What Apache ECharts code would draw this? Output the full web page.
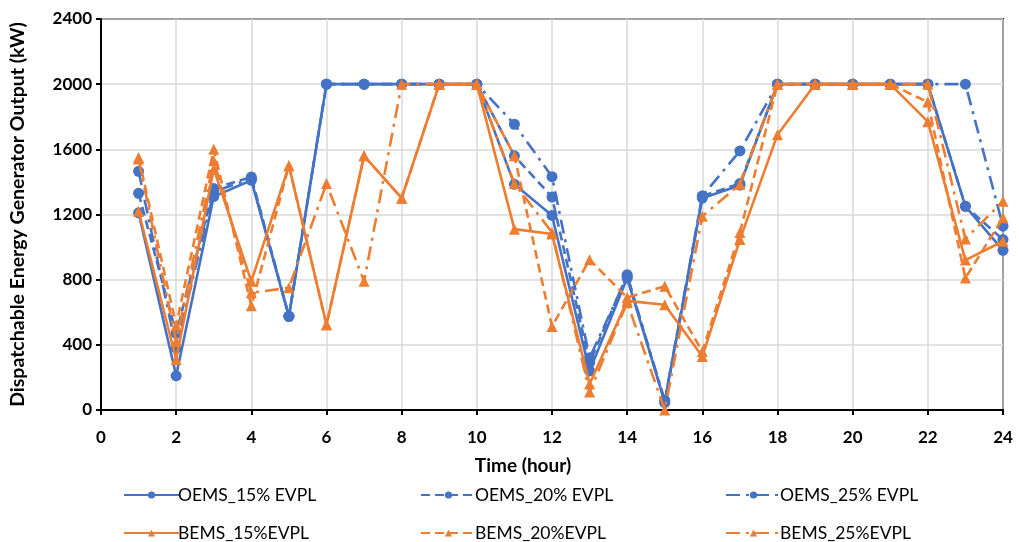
<!DOCTYPE html>
<html>
<head>
<meta charset="utf-8">
<script src="https://cdn.jsdelivr.net/npm/echarts@6/dist/echarts.min.js"></script>
<style>
  html, body { margin: 0; padding: 0; background: #fff; }
  #chart { width: 1019px; height: 542px; }
</style>
</head>
<body>
<div id="chart"></div>
<script>
// Hour of day
const hours = [1, 2, 3, 4, 5, 6, 7, 8, 9, 10, 11, 12, 13, 14, 15, 16, 17, 18, 19, 20, 21, 22, 23, 24];

// Dispatchable generator output (kW) per scenario
const oems15 = [1210, 210, 1310, 1410, 575, 2000, 2000, 2000, 2000, 2000, 1385, 1194, 240, 810, 50, 1300, 1380, 2000, 2000, 2000, 2000, 2000, 1250, 980];
const oems20 = [1330, 470, 1360, 1430, 575, 2000, 2000, 2000, 2000, 2000, 1560, 1307, 290, 830, 45, 1313, 1390, 2000, 2000, 2000, 2000, 2000, 1250, 1046];
const oems25 = [1465, 380, 1340, 1420, 575, 2000, 2000, 2000, 2000, 2000, 1754, 1432, 320, 820, 60, 1313, 1590, 2000, 2000, 2000, 2000, 2000, 2000, 1128];
const bems15 = [1220, 310, 1480, 790, 1500, 523, 1560, 1300, 2000, 2000, 1110, 1080, 160, 670, 646, 328, 1046, 1690, 2000, 2000, 2000, 1770, 920, 1036];
const bems20 = [1550, 520, 1600, 640, 1500, 523, 1560, 1300, 2000, 2000, 1560, 513, 923, 690, 760, 359, 1090, 2000, 2000, 2000, 2000, 1890, 810, 1180];
const bems25 = [1540, 420, 1530, 720, 750, 1390, 790, 2000, 2000, 2000, 1390, 1090, 110, 660, 0, 1190, 1385, 2000, 2000, 2000, 2000, 2000, 1050, 1282];

const seriesNames = ['OEMS_15% EVPL', 'OEMS_20% EVPL', 'OEMS_25% EVPL', 'BEMS_15%EVPL', 'BEMS_20%EVPL', 'BEMS_25%EVPL'];

// Axis tick values
const xTicks = [0, 2, 4, 6, 8, 10, 12, 14, 16, 18, 20, 22, 24];
const yTicks = [0, 400, 800, 1200, 1600, 2000, 2400];

const BLUE = '#4472C4';
const ORANGE = '#ED7D31';
const SOLID = 'solid';
const DASH = [9, 5];
const DASHDOT = [14, 6, 3, 6];

const FONT = 'Lato, Carlito, "Liberation Sans", sans-serif';

const defs = [
  { data: oems15, color: BLUE, type: SOLID, symbol: 'circle' },
  { data: oems20, color: BLUE, type: DASH, symbol: 'circle' },
  { data: oems25, color: BLUE, type: DASHDOT, symbol: 'circle' },
  { data: bems15, color: ORANGE, type: SOLID, symbol: 'triangle' },
  { data: bems20, color: ORANGE, type: DASH, symbol: 'triangle' },
  { data: bems25, color: ORANGE, type: DASHDOT, symbol: 'triangle' }
];

const series = defs.map((d, i) => ({
  name: seriesNames[i],
  type: 'line',
  data: hours.map((h, k) => [h, d.data[k]]),
  symbol: d.symbol,
  symbolSize: 11,
  showSymbol: true,
  itemStyle: { color: d.color },
  lineStyle: { color: d.color, width: 2.6, type: d.type },
  emphasis: { disabled: true },
  animation: false,
  z: 2 + i
}));

// Legend: two rows of three entries
const legendPos = [
  { left: 123, top: 486 }, { left: 420, top: 486 }, { left: 725, top: 486 },
  { left: 123, top: 524 }, { left: 420, top: 524 }, { left: 725, top: 524 }
];
const legends = seriesNames.map((n, i) => ({
  data: [n],
  left: legendPos[i].left,
  top: legendPos[i].top,
  padding: 0,
  itemWidth: 55,
  itemHeight: 9,
  itemGap: 2,
  textStyle: { fontFamily: FONT, fontSize: 17.5, color: '#000', padding: [0, 0, 0, -6] },
  selectedMode: false
}));

const chart = echarts.init(document.getElementById('chart'), null, { renderer: 'canvas' });
chart.setOption({
  backgroundColor: '#fff',
  animation: false,
  grid: {
    left: 99, right: 16, top: 19, bottom: 132,
    show: true, borderColor: '#000', borderWidth: 2, containLabel: false
  },
  legend: legends,
  xAxis: {
    type: 'value',
    min: xTicks[0], max: xTicks[xTicks.length - 1], interval: xTicks[1] - xTicks[0],
    name: 'Time (hour)',
    nameLocation: 'middle',
    nameGap: 46,
    nameTextStyle: { fontFamily: FONT, fontSize: 19, fontWeight: 'bold', color: '#000', padding: [0, 58, 0, 0] },
    axisLine: { show: true, onZero: false, lineStyle: { color: '#000', width: 2 } },
    axisTick: { show: true, inside: false, length: 5, lineStyle: { color: '#000', width: 2 } },
    axisLabel: { fontFamily: FONT, fontSize: 17, fontWeight: 'bold', color: '#000', margin: 19 },
    splitLine: { show: true, lineStyle: { color: '#d9d9d9', width: 1.5 } }
  },
  yAxis: {
    type: 'value',
    min: yTicks[0], max: yTicks[yTicks.length - 1], interval: yTicks[1] - yTicks[0],
    name: 'Dispatchable Energy Generator Output (kW)',
    nameLocation: 'middle',
    nameGap: 73,
    nameTextStyle: { fontFamily: FONT, fontSize: 19.5, fontWeight: 'bold', color: '#000' },
    axisLine: { show: true, lineStyle: { color: '#000', width: 2 } },
    axisTick: { show: true, inside: false, length: 5, lineStyle: { color: '#000', width: 2 } },
    axisLabel: {
      fontFamily: FONT, fontSize: 17, fontWeight: 'bold', color: '#000', margin: 9,
      formatter: v => String(v)
    },
    splitLine: { show: true, lineStyle: { color: '#d9d9d9', width: 1.5 } }
  },
  series: series
});
</script>
</body>
</html>
